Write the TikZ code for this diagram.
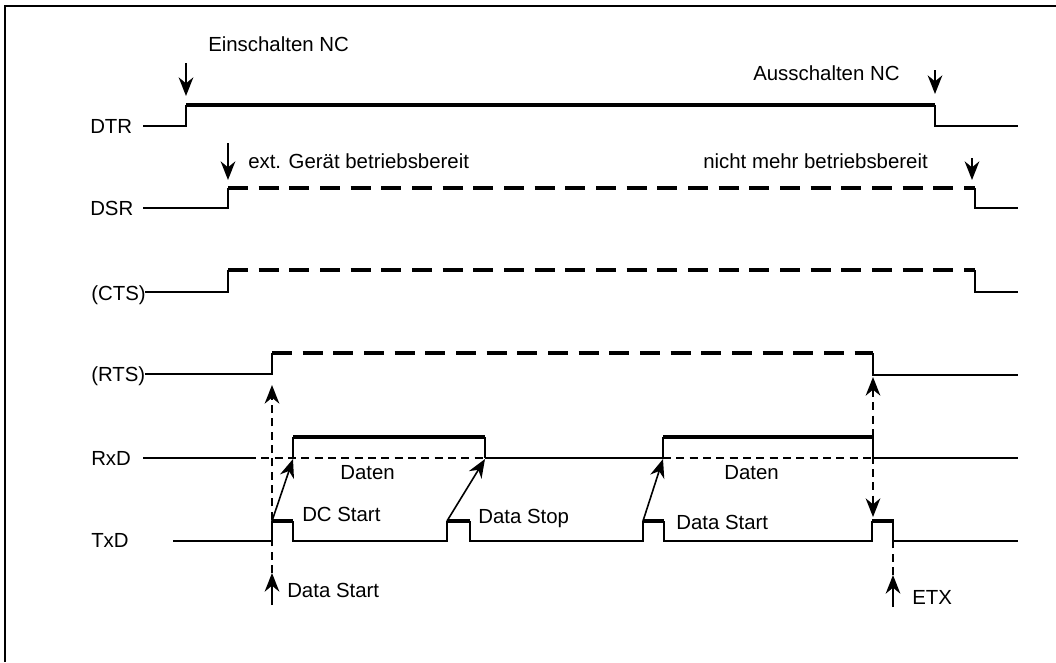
\documentclass[tikz,border=0pt]{standalone}
\usepackage{fontspec}
\setmainfont{Liberation Sans}
\usetikzlibrary{arrows.meta}

\tikzset{
  sig/.style={line width=1.2pt},
  hiline/.style={line width=3.5pt},
  hidash/.style={line width=3.5pt, dash pattern=on 15pt off 8pt},
  aux/.style={line width=1.2pt, dash pattern=on 6pt off 4pt},
  lbl/.style={anchor=base west, inner sep=0pt, font=\fontsize{15.3}{18}\selectfont},
  tip/.style={-{Stealth[length=14pt, width=11pt, inset=4.5pt]}},
  bitip/.style={{Stealth[length=14pt, width=11pt, inset=4.5pt]}-{Stealth[length=14pt, width=11pt, inset=4.5pt]}},
}

\begin{document}
\begin{tikzpicture}[x=0.75pt, y=-0.75pt]
    \useasboundingbox (0,0) rectangle (1056,662);

    % Frame (only left and top edge visible)
    \draw[line width=1.5pt] (5,662) -- (5,6) -- (1056,6);

    % Signal names
    \node[lbl] (dtr) at (90,133) {DTR};
    \node[lbl] (dsr) at (90,215) {DSR};
    \node[lbl] (cts) at (91,300) {(CTS)};
    \node[lbl] (rts) at (91,381) {(RTS)};
    \node[lbl] (rxd) at (91,465) {RxD};
    \node[lbl] (txd) at (91,547) {TxD};

    % DTR
    \draw[sig] (143,126) -- (186,126) -- (186,105);
    \draw[hiline] (186,105) -- (935,105);
    \draw[sig] (935,105) -- (935,126) -- (1018,126);
    \draw[sig, tip] (186,63) -- (186,96);
    \draw[sig, tip] (935,70) -- (935,94);
    \node[lbl] (ein) at (208,51) {Einschalten NC};
    \node[lbl] (aus) at (753,80) {Ausschalten NC};

    % DSR
    \draw[sig] (143,208) -- (228,208) -- (228,188);
    \draw[hidash] (228,188) -- (975,188);
    \draw[sig] (975,188) -- (975,208) -- (1018,208);
    \draw[sig, tip] (228,143) -- (228,180);
    \draw[sig, tip] (972,158) -- (972,180);
    \node[lbl] (bereit) at (248,168) {ext. Gerät betriebsbereit};
    \node[lbl] (nicht) at (703,168) {nicht mehr betriebsbereit};

    % CTS
    \draw[sig] (145,292) -- (228,292) -- (228,270);
    \draw[hidash] (228,270) -- (975,270);
    \draw[sig] (975,270) -- (975,292) -- (1018,292);

    % RTS
    \draw[sig] (145,374) -- (272,374) -- (272,353);
    \draw[hidash] (272,353) -- (873,353);
    \draw[sig] (873,353) -- (873,375) -- (1018,375);

    % RxD
    \draw[sig] (143,458) -- (248,458);
    \draw[aux] (248,458) -- (485,458);
    \draw[sig] (485,458) -- (663,458);
    \draw[aux] (663,458) -- (873,458);
    \draw[sig] (873,458) -- (1018,458);
    \draw[sig] (293,458) -- (293,437);
    \draw[hiline] (293,437) -- (485,437);
    \draw[sig] (485,437) -- (485,458);
    \draw[sig] (663,458) -- (663,437);
    \draw[hiline] (663,437) -- (873,437);
    \draw[sig] (873,437) -- (873,458);
    \node[lbl] (daten1) at (340,479) {Daten};
    \node[lbl] (daten2) at (724,479) {Daten};

    % TxD
    \draw[sig] (173,541) -- (272,541) -- (272,521);
    \draw[hiline] (272,521) -- (293,521);
    \draw[sig] (293,521) -- (293,541) -- (447,541) -- (447,521);
    \draw[hiline] (447,521) -- (470,521);
    \draw[sig] (470,521) -- (470,541) -- (643,541) -- (643,521);
    \draw[hiline] (643,521) -- (664,521);
    \draw[sig] (664,521) -- (664,541) -- (872,541) -- (872,521);
    \draw[hiline] (872,521) -- (894,521);
    \draw[sig] (893,521) -- (893,541) -- (1018,541);
    \node[lbl] (dcstart) at (302,521) {DC Start};
    \node[lbl] (dstop) at (478,523) {Data Stop};
    \node[lbl] (dstart) at (676,529) {Data Start};

    % TxD -> RxD transfer
    \draw[sig, tip] (272,521) -- (293,459);
    \draw[sig, tip] (447,521) -- (485,459);
    \draw[sig, tip] (643,521) -- (663,459);

    % Data Start -> RTS
    \draw[sig, tip] (272,605) -- (272,573);
    \draw[aux, tip] (272,573) -- (272,385);
    \node[lbl] (start) at (287,597) {Data Start};

    % RTS off <-> last character
    \draw[aux, bitip] (873,377) -- (873,517);

    % ETX
    \draw[sig, tip] (893,607) -- (893,575);
    \draw[aux] (893,575) -- (893,542);
    \node[lbl] (etx) at (912,604) {ETX};
\end{tikzpicture}
\end{document}
